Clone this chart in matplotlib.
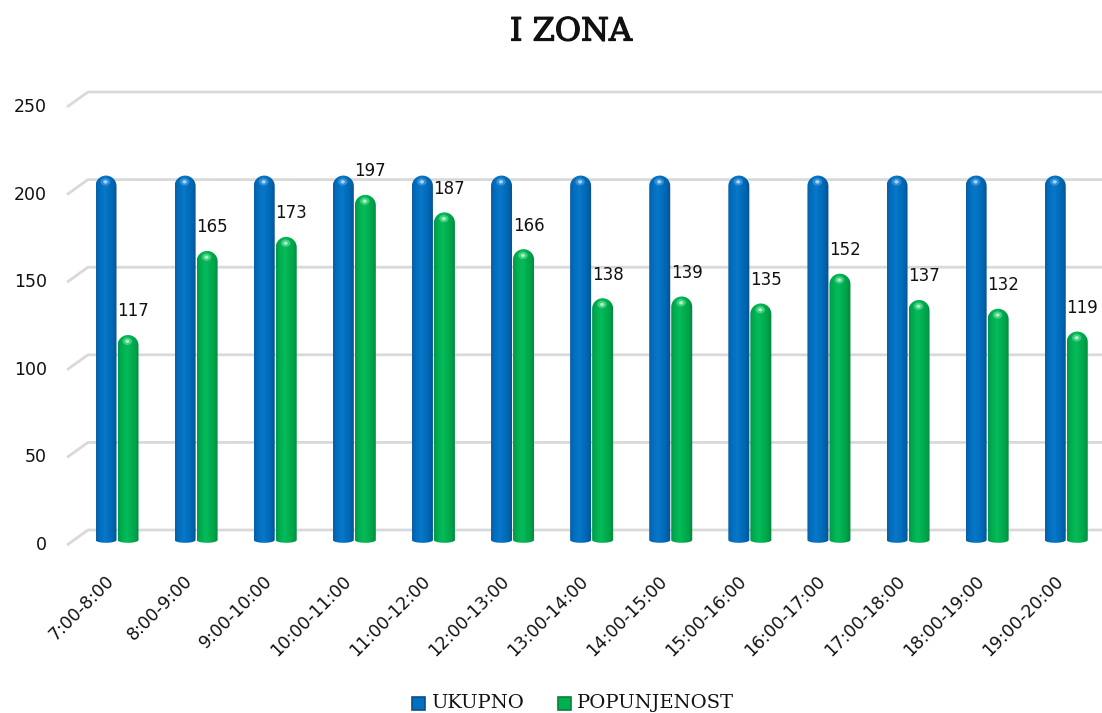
import numpy as np
import matplotlib
matplotlib.use('Agg')
import matplotlib.pyplot as plt
import matplotlib.patheffects as pe
from matplotlib.patches import Polygon, Ellipse, Rectangle
from matplotlib.colors import LinearSegmentedColormap

# ---------------- data ----------------
title = "I ZONA"
categories = ["7:00-8:00", "8:00-9:00", "9:00-10:00", "10:00-11:00", "11:00-12:00",
              "12:00-13:00", "13:00-14:00", "14:00-15:00", "15:00-16:00", "16:00-17:00",
              "17:00-18:00", "18:00-19:00", "19:00-20:00"]
ukupno = [208, 208, 208, 208, 208, 208, 208, 208, 208, 208, 208, 208, 208]
popunjenost = [117, 165, 173, 197, 187, 166, 138, 139, 135, 152, 137, 132, 119]
y_ticks = [0, 50, 100, 150, 200, 250]
series_names = ["UKUPNO", "POPUNJENOST"]

# ---------------- figure / axes ----------------
W, H = 1102, 713
fig = plt.figure(figsize=(W / 100, H / 100), dpi=100)
ax = fig.add_axes([0.05593, 0.23035, 0.94407, 0.6561])
ax.axis('off')

PXX = 1 / 79.1      # data units per pixel (x)
PXY = 1 / 1.752     # data units per pixel (y)
bw = 21 * PXX
off = 11 * PXX

blue_cmap = LinearSegmentedColormap.from_list(
    "b", ['#0a5ea8', '#0070c0', '#0a76c6', '#0070c0', '#0064ae', '#0a4f8a'])
green_cmap = LinearSegmentedColormap.from_list(
    "g", ['#00994a', '#00b050', '#06ba5a', '#00b050', '#00a249', '#00843c'])
grad = np.linspace(0, 1, 128).reshape(1, -1)


def cylinder(cx, value, w, cmap, glow, z):
    hw = w / 2
    ry = hw / PXX * PXY
    top = max(value - ry, 0)
    t = np.linspace(0, np.pi, 40)
    bx = cx - hw * np.cos(t)
    by = -1.6 * np.sin(t)
    tx = cx + hw * np.cos(t)
    ty = top + ry * np.sin(t)
    verts = np.column_stack([np.concatenate([bx, tx]), np.concatenate([by, ty])])
    poly = Polygon(verts, closed=True, facecolor='none', edgecolor='none', zorder=z)
    ax.add_patch(poly)
    im = ax.imshow(grad, cmap=cmap, extent=[cx - hw, cx + hw, -2, value + 1],
                   aspect='auto', zorder=z, interpolation='bilinear')
    im.set_clip_path(poly)
    # soft highlight near the top
    ax.add_patch(Ellipse((cx - hw * 0.05, value - ry * 0.6), w * 0.45, ry * 0.7,
                         facecolor=glow, edgecolor='none', alpha=0.55, zorder=z + 0.1))
    ax.add_patch(Ellipse((cx - hw * 0.05, value - ry * 0.6), w * 0.2, ry * 0.32,
                         facecolor='white', edgecolor='none', alpha=0.6, zorder=z + 0.2))


# gridlines (3D-ish with slanted front part)
x_back = (88 - 117) * PXX
x_front = (67 - 117) * PXX
for v in y_ticks:
    ax.plot([x_front, x_back, 13], [v - 2.85, v + 5.7, v + 5.7],
            color='#d9d9d9', lw=2, zorder=1, solid_capstyle='butt', clip_on=False)
    ax.text((47 - 117) * PXX, v - 2.9, str(v), ha='right', va='center',
            fontsize=12.5, family='DejaVu Sans', color='#111111', clip_on=False)

x = np.arange(len(categories))
for i in x:
    cylinder(i - off, ukupno[i], bw, blue_cmap, '#5aa8e6', 3)
    cylinder(i + off, popunjenost[i], bw, green_cmap, '#6ee6a0', 3)
    ax.text(i + off + 5 * PXX, popunjenost[i] + 13.5, str(popunjenost[i]),
            ha='center', va='center', fontsize=12, family='DejaVu Sans',
            color='#111111', zorder=5)
    ax.text(i - 6 * PXX, -22, categories[i], rotation=45, rotation_mode='anchor',
            ha='right', va='center', fontsize=12.5, family='DejaVu Sans',
            color='#111111', clip_on=False)

ax.set_xlim(-0.7, 12.452)
ax.set_ylim(-5, 262)

# title
fig.text(571 / W, 1 - 32 / H, title, ha='center', va='center', fontsize=23,
         family='DejaVu Serif', color='#111111',
         path_effects=[pe.withStroke(linewidth=0.9, foreground='#111111')])

# legend (manual)
def legend_item(x0, color, dark, label):
    s = 13
    fig.patches.append(Rectangle((x0 / W, 1 - (703 + s / 2) / H), s / W, s / H,
                                 transform=fig.transFigure, facecolor=color,
                                 edgecolor=dark, lw=1.2))
    fig.text((x0 + 19) / W, 1 - 703 / H, label, ha='left', va='center', fontsize=14,
             family='DejaVu Serif', color='#111111')

legend_item(412, '#0070c0', '#0a4f8a', series_names[0])
legend_item(558, '#00b050', '#00843c', series_names[1])

fig.savefig('out.png', dpi=100)
